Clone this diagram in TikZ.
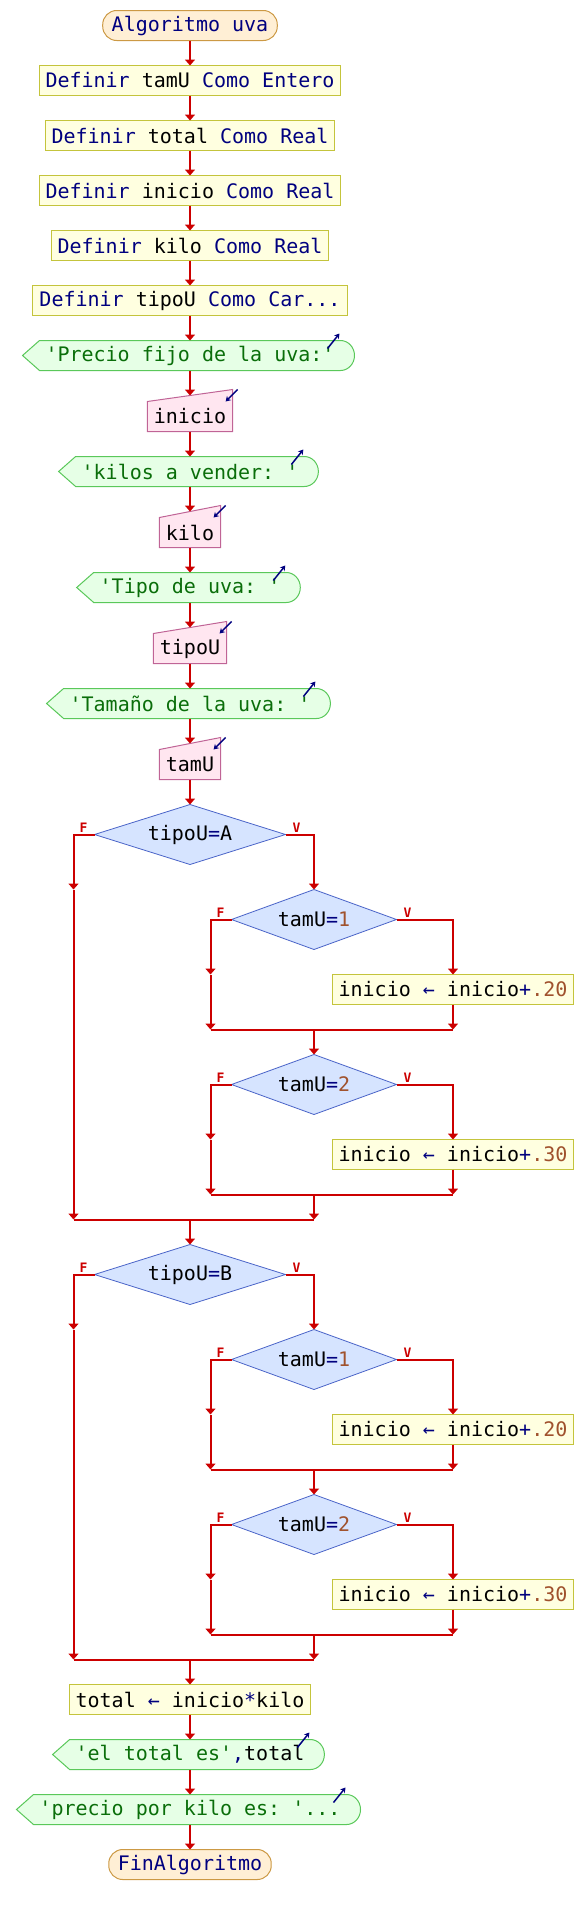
\documentclass[tikz,border=0pt]{standalone}
\usepackage{fontspec}
\setmonofont{DejaVu Sans Mono}
\usetikzlibrary{positioning}
\usetikzlibrary{calc}
\usetikzlibrary{shapes.geometric}
\usetikzlibrary{arrows.meta}
\usetikzlibrary{backgrounds}

\definecolor{flecha}{HTML}{CC0000}
\definecolor{clave}{HTML}{00007F}
\definecolor{cadena}{HTML}{0A6E0A}
\definecolor{numero}{HTML}{A0522D}
\definecolor{termfondo}{HTML}{FFEFD5}
\definecolor{termborde}{HTML}{CC9944}
\definecolor{procfondo}{HTML}{FFFFE0}
\definecolor{procborde}{HTML}{C4C43C}
\definecolor{salfondo}{HTML}{E6FFE6}
\definecolor{salborde}{HTML}{5AC85A}
\definecolor{leefondo}{HTML}{FFE6F0}
\definecolor{leeborde}{HTML}{C06496}
\definecolor{decfondo}{HTML}{D6E4FF}
\definecolor{decborde}{HTML}{4A64C8}

\newcommand{\pkw}[1]{\textcolor{clave}{#1}}
\newcommand{\pnum}[1]{\textcolor{numero}{#1}}

\tikzset{
    terminal/.style={rectangle, rounded corners=14pt, draw=termborde, fill=termfondo, line width=1pt, minimum height=30pt, inner ysep=0pt, inner xsep=9pt, outer sep=0pt, text=clave},
    proceso/.style={rectangle, draw=procborde, fill=procfondo, line width=1pt, minimum height=30pt, inner ysep=0pt, inner xsep=6.5pt, outer sep=0pt},
    salida/.style={rectangle, minimum height=30pt, inner ysep=0pt, inner xsep=6pt, outer sep=0pt, text=cadena},
    lectura/.style={rectangle, minimum height=30pt, inner ysep=0pt, inner xsep=6.5pt, outer sep=0pt},
    salidafig/.style={draw=salborde, fill=salfondo, line width=1pt},
    lecturafig/.style={draw=leeborde, fill=leefondo, line width=1pt},
    decision/.style={diamond, aspect=4, draw=decborde, fill=decfondo, line width=0.8pt, inner sep=0pt, outer sep=0pt, minimum height=60pt, minimum width=165pt},
    flujo/.style={draw=flecha, line width=2pt, -{Triangle[width=10pt,length=6pt]}},
    linea/.style={draw=flecha, line width=2pt},
    etiq/.style={text=flecha, font=\ttfamily\bfseries\fontsize{13}{13}\selectfont, inner sep=0pt, anchor=south},
    leyenda/.style={draw=clave, line width=1.5pt, -{Stealth[length=5pt,width=6pt]}}
}

\begin{document}
\begin{tikzpicture}[x=1pt, y=1pt, font=\ttfamily\fontsize{20}{24}\selectfont]
    \useasboundingbox (0,0) rectangle (584,-1914);

    \node[terminal] (inicioalg) at (190,-25.5) {Algoritmo uva};
    \node[proceso, below=25pt of inicioalg] (def1) {\pkw{Definir} tamU \pkw{Como Entero}};
    \node[proceso, below=25pt of def1] (def2) {\pkw{Definir} total \pkw{Como Real}};
    \node[proceso, below=25pt of def2] (def3) {\pkw{Definir} inicio \pkw{Como Real}};
    \node[proceso, below=25pt of def3] (def4) {\pkw{Definir} kilo \pkw{Como Real}};
    \node[proceso, below=25pt of def4] (def5) {\pkw{Definir} tipoU \pkw{Como Car...}};
    \node[salida, below=25pt of def5] (out1) {'Precio fijo de la uva:'};
    \node[lectura, below=31pt of out1] (lee1) {inicio};
    \node[salida, below=25pt of lee1] (out2) {'kilos a vender: '};
    \node[lectura, below=31pt of out2] (lee2) {kilo};
    \node[salida, below=25pt of lee2] (out3) {'Tipo de uva: '};
    \node[lectura, below=31pt of out3] (lee3) {tipoU};
    \node[salida, below=25pt of lee3] (out4) {'Tamaño de la uva: '};
    \node[lectura, below=31pt of out4] (lee4) {tamU};

    % tipoU=A
    \node[decision, minimum width=191pt, below=25pt of lee4] (si1) {tipoU\pkw{=}A};
    \node[decision, below=25pt of si1, xshift=124pt] (si2) {tamU\pkw{=}\pnum{1}};
    \node[proceso, below=25pt of si2, xshift=139pt] (asig1) {inicio \pkw{←} inicio\pkw{+}\pnum{.20}};
    \coordinate[below=25pt of asig1] (u1);
    \coordinate (m1) at (si2 |- u1);
    \node[decision, below=25pt of m1] (si3) {tamU\pkw{=}\pnum{2}};
    \node[proceso, below=25pt of si3, xshift=139pt] (asig2) {inicio \pkw{←} inicio\pkw{+}\pnum{.30}};
    \coordinate[below=25pt of asig2] (u2);
    \coordinate (m2) at (si3 |- u2);
    \coordinate[below=25pt of m2] (m3);
    \coordinate (m4) at (si1 |- m3);
    \coordinate[left=21pt of si1.west] (c1);
    \coordinate[left=21pt of si2.west] (c2);
    \coordinate[left=21pt of si3.west] (c3);

    % tipoU=B
    \node[decision, minimum width=191pt, below=25pt of m4] (si4) {tipoU\pkw{=}B};
    \node[decision, below=25pt of si4, xshift=124pt] (si5) {tamU\pkw{=}\pnum{1}};
    \node[proceso, below=25pt of si5, xshift=139pt] (asig3) {inicio \pkw{←} inicio\pkw{+}\pnum{.20}};
    \coordinate[below=25pt of asig3] (u3);
    \coordinate (m5) at (si5 |- u3);
    \node[decision, below=25pt of m5] (si6) {tamU\pkw{=}\pnum{2}};
    \node[proceso, below=25pt of si6, xshift=139pt] (asig4) {inicio \pkw{←} inicio\pkw{+}\pnum{.30}};
    \coordinate[below=25pt of asig4] (u4);
    \coordinate (m6) at (si6 |- u4);
    \coordinate[below=25pt of m6] (m7);
    \coordinate (m8) at (si4 |- m7);
    \coordinate[left=21pt of si4.west] (c4);
    \coordinate[left=21pt of si5.west] (c5);
    \coordinate[left=21pt of si6.west] (c6);

    \node[proceso, below=25pt of m8] (tot) {total \pkw{←} inicio\pkw{*}kilo};
    \node[salida, below=25pt of tot] (out5) {'el total es'\pkw{,}\textcolor{black}{total}};
    \node[salida, below=25pt of out5] (out6) {'precio por kilo es: '...};
    \node[terminal, below=25pt of out6] (fin) {FinAlgoritmo};

    \foreach \s in {si1,si2,si3,si4,si5,si6}{
        \node[etiq] (f\s) at ([xshift=-11pt,yshift=2pt]\s.west) {F};
        \node[etiq] (v\s) at ([xshift=11pt,yshift=2pt]\s.east) {V};
    }

    \begin{pgfonlayer}{background}
        \foreach \s in {out1,out2,out3,out4,out5,out6}
            \draw[salidafig] (\s.north west) -- (\s.north east) arc[start angle=90, end angle=-90, x radius=14pt, y radius=15pt] -- (\s.south west) -- ([xshift=-17pt]\s.west) -- cycle;
        \foreach \s in {lee1,lee2,lee3,lee4}
            \draw[lecturafig] (\s.south west) -- (\s.north west) -- ([yshift=12pt]\s.north east) -- (\s.south east) -- cycle;
    \end{pgfonlayer}

    \foreach \s in {out1,out2,out3,out4,out5,out6}
        \draw[leyenda] ([shift={(-13pt,-8pt)}]\s.north east) -- ([shift={(-1pt,7pt)}]\s.north east);
    \foreach \s in {lee1,lee2,lee3,lee4}
        \draw[leyenda] ([shift={(5pt,12pt)}]\s.north east) -- ([shift={(-7pt,0pt)}]\s.north east);

    \foreach \a/\b in {inicioalg/def1,def1/def2,def2/def3,def3/def4,def4/def5,def5/out1,lee1/out2,lee2/out3,lee3/out4,lee4/si1,m4/si4,m8/tot,tot/out5,out5/out6,out6/fin}
        \draw[flujo] (\a) -- (\b);
    \foreach \a/\b in {out1/lee1,out2/lee2,out3/lee3,out4/lee4}
        \draw[flujo] (\a) -- ([yshift=6pt]\b.north);

    \draw[flujo] (si1.east) -| (si2.north);
    \draw[flujo] (si1.west) -| (c1 |- si2.north);
    \draw[flujo] (c1 |- si2.north) -- (c1 |- m3);
    \draw[flujo] (si2.east) -| (asig1.north);
    \draw[flujo] (si2.west) -| (c2 |- asig1.north);
    \draw[flujo] (c2 |- asig1.north) -- (c2 |- u1);
    \draw[flujo] (asig1) -- (u1);
    \draw[linea] (c2 |- u1) -- (u1);
    \draw[flujo] (m1) -- (si3);
    \draw[flujo] (si3.east) -| (asig2.north);
    \draw[flujo] (si3.west) -| (c3 |- asig2.north);
    \draw[flujo] (c3 |- asig2.north) -- (c3 |- u2);
    \draw[flujo] (asig2) -- (u2);
    \draw[linea] (c3 |- u2) -- (u2);
    \draw[flujo] (m2) -- (m3);
    \draw[linea] (c1 |- m3) -- (m3);

    \draw[flujo] (si4.east) -| (si5.north);
    \draw[flujo] (si4.west) -| (c4 |- si5.north);
    \draw[flujo] (c4 |- si5.north) -- (c4 |- m7);
    \draw[flujo] (si5.east) -| (asig3.north);
    \draw[flujo] (si5.west) -| (c5 |- asig3.north);
    \draw[flujo] (c5 |- asig3.north) -- (c5 |- u3);
    \draw[flujo] (asig3) -- (u3);
    \draw[linea] (c5 |- u3) -- (u3);
    \draw[flujo] (m5) -- (si6);
    \draw[flujo] (si6.east) -| (asig4.north);
    \draw[flujo] (si6.west) -| (c6 |- asig4.north);
    \draw[flujo] (c6 |- asig4.north) -- (c6 |- u4);
    \draw[flujo] (asig4) -- (u4);
    \draw[linea] (c6 |- u4) -- (u4);
    \draw[flujo] (m6) -- (m7);
    \draw[linea] (c4 |- m7) -- (m7);
\end{tikzpicture}
\end{document}
